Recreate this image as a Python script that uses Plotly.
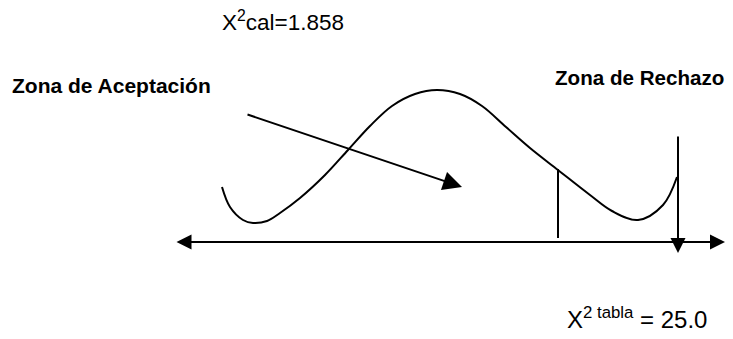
import plotly.graph_objects as go

# Curve (density sketch) points in the drawing's coordinate system (x right, y down)
curve_x = [222, 230, 243, 253, 267, 280, 300, 325, 348, 370, 392, 415, 437, 460, 482, 506, 530, 558, 590, 612, 638, 663, 677]
curve_y = [187, 207, 220, 223, 221, 213, 198, 175, 150, 126, 106, 94, 90, 94, 106, 127, 148, 170, 195, 211, 220, 205, 177]

# Arrows: (tail_x, tail_y, head_x, head_y)
axis_line = (175, 242, 725, 242)
pointer_arrow = (246, 114, 462, 187)
table_arrow = (678, 135, 678, 253)
critical_line = (558, 169, 558, 238)

labels = ["X<sup>2</sup>cal=1.858", "<b>Zona de Aceptación</b>", "<b>Zona de Rechazo</b>",
          "X<sup>2 tabla</sup> = 25.0"]
label_x = [220, 10, 553, 565]
label_y = [21, 85, 77, 318]
label_size = [22.5, 21, 20.6, 24]

fig = go.Figure()
fig.add_trace(go.Scatter(x=curve_x, y=curve_y, mode="lines",
                         line=dict(color="black", width=2, shape="spline", smoothing=1.0),
                         hoverinfo="skip", showlegend=False))
fig.add_trace(go.Scatter(x=[critical_line[0], critical_line[2]], y=[critical_line[1], critical_line[3]],
                         mode="lines", line=dict(color="black", width=2),
                         hoverinfo="skip", showlegend=False))

def arrow(a, side="end", size=1.5):
    tx, ty, hx, hy = a
    fig.add_annotation(x=hx, y=hy, ax=tx, ay=ty, xref="x", yref="y", axref="x", ayref="y",
                       text="", showarrow=True, arrowhead=2, arrowsize=size, arrowwidth=2,
                       arrowcolor="black", arrowside=side, standoff=0, startstandoff=0,
                       startarrowhead=2, startarrowsize=size)

arrow(axis_line, "end+start")
arrow(pointer_arrow, "end", 1.9)
arrow(table_arrow, "end")

for t, x, y, s in zip(labels, label_x, label_y, label_size):
    fig.add_annotation(x=x, y=y, xref="x", yref="y", text=t, showarrow=False,
                       xanchor="left", yanchor="middle",
                       font=dict(family="Liberation Sans, Arial", size=s, color="black"))

fig.update_layout(width=733, height=339, margin=dict(l=0, r=0, t=0, b=0),
                  paper_bgcolor="white", plot_bgcolor="white",
                  xaxis=dict(range=[0, 733], visible=False, fixedrange=True),
                  yaxis=dict(range=[339, 0], visible=False, fixedrange=True))

fig.write_html("out.html", config={"displayModeBar": False, "staticPlot": True},
               post_script="document.body.style.margin='0';document.body.style.overflow='hidden';")
